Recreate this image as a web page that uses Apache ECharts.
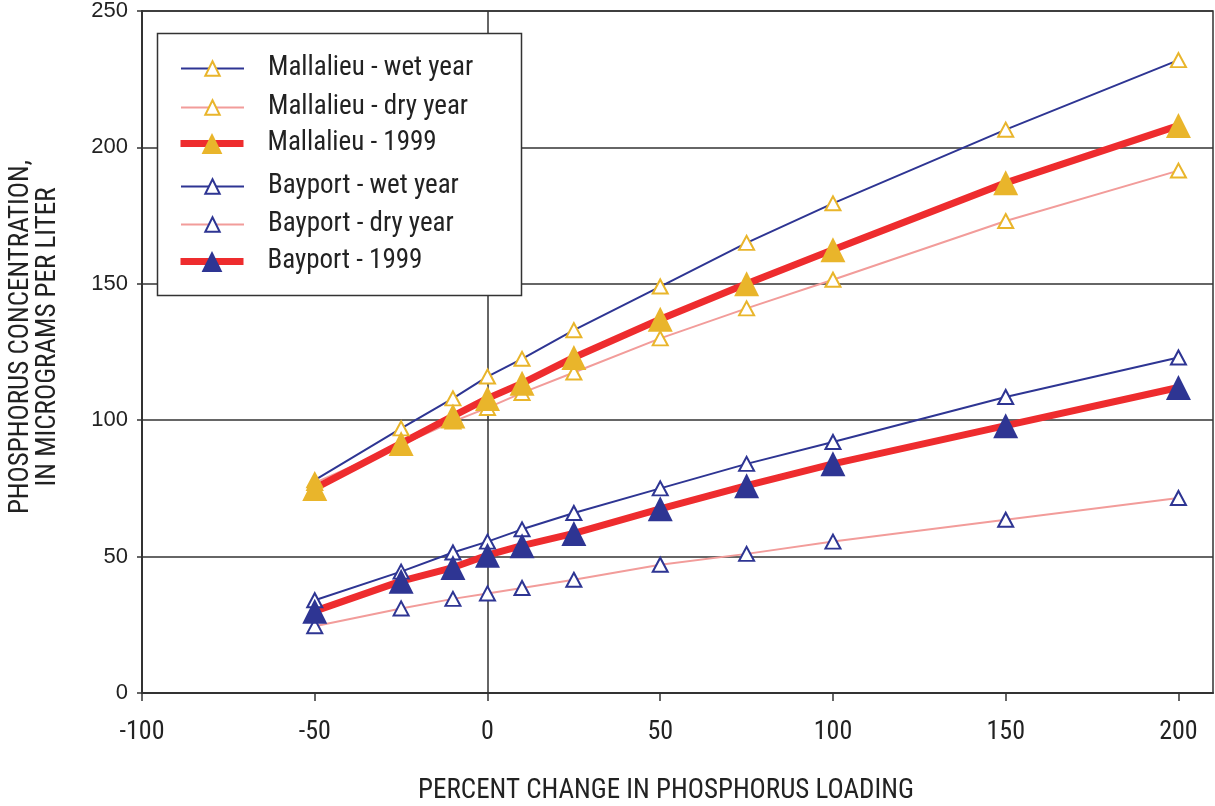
<!DOCTYPE html>
<html>
<head>
<meta charset="utf-8">
<script src="https://cdn.jsdelivr.net/npm/echarts@6/dist/echarts.min.js"></script>
<style>
  html, body { margin: 0; padding: 0; background: #fff; }
  #chart { width: 1215px; height: 806px; }
</style>
</head>
<body>
<div id="chart"></div>
<script>
// Percent change in phosphorus loading (x values shared by every series)
const loadChange = [-50, -25, -10, 0, 10, 25, 50, 75, 100, 150, 200];

// Phosphorus concentration, micrograms per liter
const mallalieuWet  = [78, 97, 108, 116, 122.5, 133, 149, 165, 179.5, 206.5, 232];
const mallalieuDry  = [77, 91, 99.5, 104.5, 110, 117.5, 130, 141, 151.5, 173, 191.5];
const mallalieu1999 = [75, 91.5, 101.5, 108, 113.5, 123, 137, 150, 162.5, 187, 208];
const bayportWet    = [34, 44.5, 51.5, 55.5, 60, 66, 75, 84, 92, 108.5, 123];
const bayportDry    = [24.5, 31, 34.5, 36.5, 38.5, 41.5, 47, 51, 55.5, 63.5, 71.5];
const bayport1999   = [30, 41, 46, 50.5, 54, 58.5, 67.5, 76, 84, 98, 112];

const seriesNames = [
  'Mallalieu - wet year', 'Mallalieu - dry year', 'Mallalieu - 1999',
  'Bayport - wet year', 'Bayport - dry year', 'Bayport - 1999'
];

const xTicks = [-100, -50, 0, 50, 100, 150, 200];
const yTicks = [0, 50, 100, 150, 200, 250];

const NARROW = "'Liberation Sans Narrow', 'Arial Narrow', 'Roboto Condensed', sans-serif";
const ORANGE = '#E9B52B';
const NAVY = '#2E3593';
const RED = '#EE2C2E';
const PINK = '#F29C9A';
const AXIS = '#333333';

const pairs = vals => loadChange.map((x, i) => [x, vals[i]]);

function thinSeries(name, vals, lineColor, markColor) {
  return {
    name, type: 'line', data: pairs(vals),
    symbol: 'triangle', symbolSize: [15, 14],
    lineStyle: { color: lineColor, width: 2 },
    itemStyle: { color: '#ffffff', borderColor: markColor, borderWidth: 2 },
    emphasis: { disabled: true }
  };
}
function thickSeries(name, vals, markColor) {
  return {
    name, type: 'line', data: pairs(vals),
    symbol: 'triangle', symbolSize: 25,
    lineStyle: { color: RED, width: 7 },
    itemStyle: { color: markColor, borderWidth: 0 },
    emphasis: { disabled: true }
  };
}

const series = [
  thinSeries(seriesNames[0], mallalieuWet, NAVY, ORANGE),
  thinSeries(seriesNames[1], mallalieuDry, PINK, ORANGE),
  thickSeries(seriesNames[2], mallalieu1999, ORANGE),
  thinSeries(seriesNames[3], bayportWet, NAVY, NAVY),
  thinSeries(seriesNames[4], bayportDry, PINK, NAVY),
  thickSeries(seriesNames[5], bayport1999, NAVY)
];

// zero-change reference line
series[0].markLine = {
  silent: true, symbol: 'none', z: 1, animation: false,
  label: { show: false },
  lineStyle: { color: AXIS, width: 1.5, type: 'solid' },
  data: [{ xAxis: 0 }]
};

// one legend per row so each row keeps its own marker size
const rowCenters = [64, 103, 141, 182, 220, 259];
const legends = seriesNames.map((name, i) => {
  const big = (i % 3) === 2;
  const h = big ? 26 : 18;
  return {
    data: [name],
    left: big ? 177 : 180,
    top: rowCenters[i] - h / 2 + (big ? 2 : 0),
    orient: 'vertical', padding: 0,
    itemWidth: 63, itemHeight: h,
    selectedMode: false, z: 10,
    lineStyle: { width: big ? 7 : 2 },
    textStyle: { fontFamily: NARROW, fontSize: 27, color: '#222', padding: [0, 0, 0, 19] }
  };
});

const chart = echarts.init(document.getElementById('chart'), null, { renderer: 'canvas' });
chart.setOption({
  animation: false,
  backgroundColor: '#ffffff',
  grid: {
    left: 142, right: 2, top: 11, bottom: 113,
    show: true, borderColor: AXIS, borderWidth: 1.5, backgroundColor: 'transparent'
  },
  xAxis: {
    type: 'value', min: -100, max: 210, interval: 50,
    axisLine: { show: true, onZero: false, lineStyle: { color: AXIS, width: 2 } },
    axisTick: { show: true, length: 8, customValues: xTicks, lineStyle: { color: AXIS, width: 1.5 } },
    axisLabel: { customValues: xTicks, margin: 26, fontFamily: NARROW, fontSize: 26, color: '#222' },
    splitLine: { show: false }
  },
  yAxis: {
    type: 'value', min: 0, max: 250, interval: 50,
    axisLine: { show: true, onZero: false, lineStyle: { color: AXIS, width: 2 } },
    axisTick: { show: true, length: 5, customValues: yTicks, lineStyle: { color: AXIS, width: 1.5 } },
    axisLabel: { customValues: yTicks, margin: 14, fontFamily: "'Liberation Sans', Arial, sans-serif", fontSize: 22, color: '#222' },
    splitLine: { show: true, lineStyle: { color: AXIS, width: 1.5 } }
  },
  legend: legends,
  graphic: [
    {
      type: 'rect', z: 8, silent: true,
      shape: { x: 157.5, y: 33.5, width: 364, height: 262 },
      style: { fill: '#ffffff', stroke: AXIS, lineWidth: 1.5 }
    },
    {
      type: 'text', z: 8, silent: true,
      x: 666, y: 791,
      style: {
        text: 'PERCENT CHANGE IN PHOSPHORUS LOADING',
        font: '27px ' + NARROW, fill: '#222', align: 'center', verticalAlign: 'middle'
      }
    },
    {
      type: 'text', z: 8, silent: true,
      x: 35, y: 337, rotation: Math.PI / 2,
      style: {
        text: 'PHOSPHORUS CONCENTRATION,\nIN MICROGRAMS PER LITER',
        font: '27px ' + NARROW, fill: '#222', align: 'center', verticalAlign: 'middle',
        lineHeight: 27
      }
    }
  ],
  series
});
</script>
</body>
</html>
